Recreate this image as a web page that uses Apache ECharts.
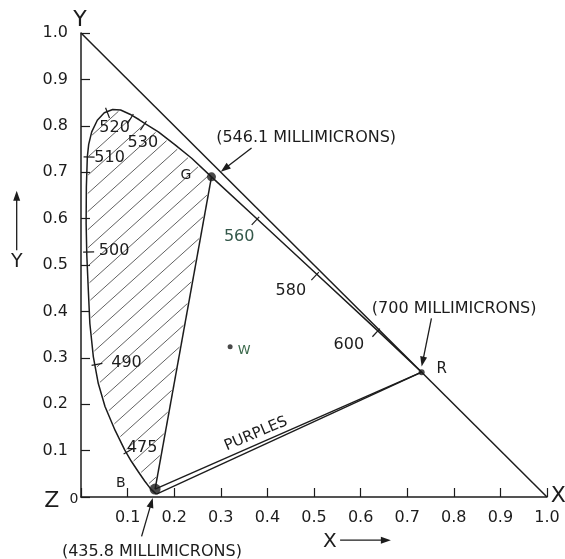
<!DOCTYPE html>
<html>
<head>
<meta charset="utf-8">
<script src="https://cdn.jsdelivr.net/npm/echarts@6.0.0/dist/echarts.min.js"></script>
<style>
html,body{margin:0;padding:0;background:#fff;}
#chart{width:565px;height:559px;}
</style>
</head>
<body>
<div id="chart"></div>
<script>
// ---------------- data ----------------
const axisTickLabels = ['0.1','0.2','0.3','0.4','0.5','0.6','0.7','0.8','0.9','1.0'];

// x + y = 1 boundary of the XYZ triangle (Y corner to X corner)
const hypotenuseX = [0, 1];
const hypotenuseY = [1, 0];

// spectral locus: violet end, up the blue/green side, over the top, down to 700 nm
const locusX = [0.162,0.150,0.137,0.123,0.108,0.094,0.073,0.0515,0.037,0.0265,0.019,0.0157,0.0125,0.011,0.0115,0.0136,0.0165,0.023,0.035,0.050,0.068,0.085,0.105,0.125,0.140,0.166,0.202,0.2375,0.280,0.378,0.506,0.637,0.731];
const locusY = [0.006,0.017,0.034,0.0545,0.077,0.101,0.144,0.195,0.245,0.302,0.374,0.446,0.520,0.590,0.668,0.733,0.760,0.787,0.812,0.828,0.835,0.834,0.825,0.813,0.803,0.787,0.759,0.730,0.690,0.599,0.480,0.358,0.269];

// primaries G (546.1), R (700), B (435.8) and white point W
const primaryNames = ['G', 'R', 'B'];
const primaryX = [0.280, 0.731, 0.159];
const primaryY = [0.690, 0.269, 0.017];
const whiteX = [0.320];
const whiteY = [0.324];

// wavelength marks on the locus
const waveLabels = ['475','490','500','510','520','','530','560','580','600'];
const waveX = [0.097,0.029,0.011,0.012,0.055,0.109,0.137,0.378,0.506,0.637];
const waveY = [0.096,0.285,0.528,0.733,0.833,0.820,0.805,0.599,0.480,0.358];

// annotation arrows (from -> to)
const arrowFromX = [0.366, 0.752, 0.130, -0.138, 0.556];
const arrowFromY = [0.752, 0.385, -0.085, 0.532, -0.093];
const arrowToX   = [0.300, 0.731, 0.154, -0.138, 0.665];
const arrowToY   = [0.701, 0.281, -0.002, 0.660, -0.093];

// annotation texts
const annoTexts = ['(546.1 MILLIMICRONS)','(700 MILLIMICRONS)','(435.8 MILLIMICRONS)','PURPLES','G','R','B','W','Z','0','Y','X','Y','X'];
const annoX = [0.290, 0.624, -0.041, 0.3755, 0.225, 0.774, 0.0855, 0.350, -0.0628, -0.015, -0.002, 1.024, -0.138, 0.534];
const annoY = [0.774, 0.405, -0.118, 0.136, 0.694, 0.276, 0.030, 0.315, -0.010, -0.006, 1.028, 0.001, 0.507, -0.096];

// ---------------- styles ----------------
const FONT = 'DejaVu Sans';
const INK = '#1c1c1c';
const annoStyles = [
  {size:16, align:'left'}, {size:16, align:'left'}, {size:16, align:'left'},
  {size:15, align:'center', rot:23},
  {size:14}, {size:15}, {size:14}, {size:13, color:'#3c6a4c'},
  {size:22}, {size:14}, {size:22}, {size:22}, {size:19}, {size:20}
];
// label offsets (px) of the wavelength numbers relative to their mark
const waveLabelOffset = [[16,-4.5],[32,-2],[28,-1],[23,0.5],[8,17],[0,0],[-2,19],[-18,17.6],[-26,16.5],[-29,13.6]];
const waveLabelColor = ['','','','','','','','#35584a','',''];
const dotSizes = [9, 6, 11];

function hatchSegments(poly, angleDeg, spacing) {
  const a = angleDeg * Math.PI / 180;
  const dx = Math.cos(a), dy = -Math.sin(a);
  const nx = -dy, ny = dx;
  let cmin = Infinity, cmax = -Infinity;
  poly.forEach(p => { const c = p[0]*nx + p[1]*ny; cmin = Math.min(cmin, c); cmax = Math.max(cmax, c); });
  const segs = [];
  for (let c = Math.ceil(cmin/spacing)*spacing; c <= cmax; c += spacing) {
    const hits = [];
    for (let i = 0; i < poly.length; i++) {
      const p = poly[i], q = poly[(i+1) % poly.length];
      const cp = p[0]*nx + p[1]*ny, cq = q[0]*nx + q[1]*ny;
      if ((cp < c && cq >= c) || (cq < c && cp >= c)) {
        const t = (c - cp) / (cq - cp);
        const x = p[0] + t*(q[0]-p[0]), y = p[1] + t*(q[1]-p[1]);
        hits.push([x*dx + y*dy, x, y]);
      }
    }
    hits.sort((u, v) => u[0] - v[0]);
    for (let k = 0; k + 1 < hits.length; k += 2) {
      const L = hits[k+1][0] - hits[k][0];
      if (L < 6) continue;
      const s = 2;
      segs.push([hits[k][1] + dx*s, hits[k][2] + dy*s, hits[k+1][1] - dx*s, hits[k+1][2] - dy*s]);
    }
  }
  return segs;
}

const gIdx = locusX.findIndex((x, i) => x === primaryX[0] && locusY[i] === primaryY[0]);
const pairs = (xs, ys) => xs.map((x, i) => [x, ys[i]]);

const chart = echarts.init(document.getElementById('chart'), null, {renderer: 'canvas'});

const axisCommon = {
  type: 'value', min: 0, max: 1, interval: 0.1,
  axisLine: {show: true, onZero: false, lineStyle: {color: INK, width: 1.5}},
  axisTick: {show: true, inside: true, length: 9, lineStyle: {color: INK, width: 1.2}},
  splitLine: {show: false},
  axisLabel: {
    fontFamily: FONT, fontSize: 16, color: INK, margin: 13,
    formatter: v => { const i = Math.round(v * 10); return i === 0 ? '' : axisTickLabels[i - 1]; }
  }
};

chart.setOption({
  animation: false,
  backgroundColor: '#ffffff',
  grid: {left: 81, right: 18, top: 33, bottom: 62, containLabel: false},
  xAxis: Object.assign({}, axisCommon),
  yAxis: Object.assign({}, axisCommon),
  series: [
    { // hatching inside the locus, left of B-G
      type: 'custom', silent: true, z: 1,
      data: [[0, 0]],
      renderItem: (params, api) => {
        const poly = [];
        for (let i = 0; i <= gIdx; i++) poly.push(api.coord([locusX[i], locusY[i]]));
        poly.push(api.coord([primaryX[2], primaryY[2]]));
        const segs = hatchSegments(poly, 42, 13.5);
        return {type: 'group', children: segs.map(s => ({
          type: 'line', shape: {x1: s[0], y1: s[1], x2: s[2], y2: s[3]},
          style: {stroke: '#505050', lineWidth: 0.9}
        }))};
      }
    },
    { type: 'line', data: pairs(hypotenuseX, hypotenuseY), symbol: 'none', z: 2,
      lineStyle: {color: INK, width: 1.5} },
    { type: 'line', data: pairs(locusX, locusY), symbol: 'none', z: 2,
      lineStyle: {color: INK, width: 1.5} },
    { // B-G side
      type: 'line', data: [[primaryX[2], primaryY[2]], [primaryX[0], primaryY[0]]], symbol: 'none', z: 2,
      lineStyle: {color: INK, width: 1.5} },
    { // B-R side
      type: 'line', data: [[primaryX[2], primaryY[2]], [primaryX[1], primaryY[1]]], symbol: 'none', z: 2,
      lineStyle: {color: INK, width: 1.4} },
    { // line of purples
      type: 'line', data: [[locusX[0], locusY[0]], [locusX[locusX.length-1], locusY[locusY.length-1]]], symbol: 'none', z: 2,
      lineStyle: {color: INK, width: 1.4} },
    { // wavelength marks
      type: 'custom', silent: true, z: 3,
      data: pairs(waveX, waveY),
      renderItem: (params, api) => {
        const i = params.dataIndex;
        const p = api.coord([api.value(0), api.value(1)]);
        const pts = locusX.map((x, k) => api.coord([x, locusY[k]]));
        let best = Infinity, tx = 0, ty = 0;
        for (let k = 0; k < pts.length - 1; k++) {
          const a = pts[k], b = pts[k+1];
          const vx = b[0]-a[0], vy = b[1]-a[1];
          const L2 = vx*vx + vy*vy;
          let t = ((p[0]-a[0])*vx + (p[1]-a[1])*vy) / L2;
          t = Math.max(0, Math.min(1, t));
          const qx = a[0] + t*vx - p[0], qy = a[1] + t*vy - p[1];
          const d = qx*qx + qy*qy;
          if (d < best) { best = d; const L = Math.sqrt(L2); tx = vx/L; ty = vy/L; }
        }
        const nx = -ty, ny = tx;
        const children = [{
          type: 'line',
          shape: {x1: p[0] - nx*3, y1: p[1] - ny*3, x2: p[0] + nx*8, y2: p[1] + ny*8},
          style: {stroke: INK, lineWidth: 1.2}
        }];
        if (waveLabels[i]) {
          const o = waveLabelOffset[i];
          children.push({type: 'text', x: p[0] + o[0], y: p[1] + o[1],
            style: {text: waveLabels[i], fontFamily: FONT, fontSize: 16, fill: waveLabelColor[i] || INK,
                    align: 'center', verticalAlign: 'middle'}});
        }
        return {type: 'group', children};
      }
    },
    { // arrows
      type: 'custom', silent: true, z: 4,
      data: arrowFromX.map((x, i) => [x, arrowFromY[i], arrowToX[i], arrowToY[i]]),
      renderItem: (params, api) => {
        const a = api.coord([api.value(0), api.value(1)]);
        const b = api.coord([api.value(2), api.value(3)]);
        const vx = b[0]-a[0], vy = b[1]-a[1];
        const L = Math.sqrt(vx*vx + vy*vy);
        const ux = vx/L, uy = vy/L;
        const hl = 10, hw = 3.5;
        const bx = b[0] - ux*hl, by = b[1] - uy*hl;
        return {type: 'group', children: [
          {type: 'line', shape: {x1: a[0], y1: a[1], x2: bx + ux*2, y2: by + uy*2},
           style: {stroke: INK, lineWidth: 1.3}},
          {type: 'polygon', shape: {points: [[b[0], b[1]], [bx - uy*hw, by + ux*hw], [bx + uy*hw, by - ux*hw]]},
           style: {fill: INK}}
        ]};
      }
    },
    { // points G, R, B
      type: 'scatter', z: 5, silent: true,
      data: pairs(primaryX, primaryY),
      symbol: 'circle',
      symbolSize: (v, p) => dotSizes[p.dataIndex],
      itemStyle: {color: INK}
    },
    { // white point
      type: 'scatter', z: 5, silent: true,
      data: pairs(whiteX, whiteY), symbol: 'circle', symbolSize: 5,
      itemStyle: {color: INK}
    },
    { // texts
      type: 'custom', silent: true, z: 6,
      data: pairs(annoX, annoY),
      renderItem: (params, api) => {
        const i = params.dataIndex;
        const s = annoStyles[i];
        const p = api.coord([api.value(0), api.value(1)]);
        return {type: 'text', x: p[0], y: p[1], rotation: (s.rot || 0) * Math.PI / 180,
          style: {text: annoTexts[i], fontFamily: FONT, fontSize: s.size, fill: s.color || INK,
                  align: s.align || 'center', verticalAlign: 'middle'}};
      }
    }
  ]
});
</script>
</body>
</html>
